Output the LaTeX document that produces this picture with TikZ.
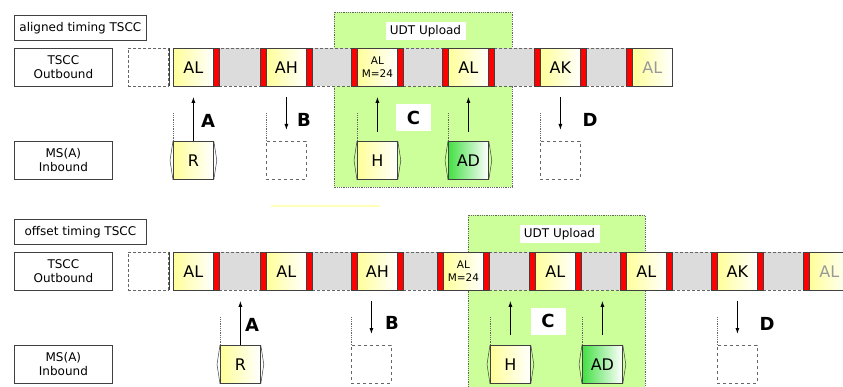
\documentclass[tikz,border=0pt]{standalone}
\usepackage{fontspec}
\setmainfont{DejaVu Sans}
\usetikzlibrary{
  arrows.meta,
  calc,
  positioning,
}
\definecolor{edge}{HTML}{404040}
\definecolor{dashgray}{HTML}{666666}
\definecolor{msgyellow}{HTML}{FFFF99}
\definecolor{msggreen}{HTML}{44E044}
\definecolor{upgreen}{HTML}{CCFF99}
\definecolor{gapgray}{HTML}{DCDCDC}
\definecolor{burstred}{HTML}{FF0000}
\definecolor{faint}{HTML}{999999}
\definecolor{paleline}{HTML}{FFFFB8}
\tikzset{
  >={Latex[length=6pt,width=4pt]},
  every node/.append style={inner sep=0pt, text=black},
  labelbox/.style={
    draw=edge,
    line width=0.8pt,
    fill=white,
    align=center,
    anchor=north west,
    font=\fontsize{12}{14}\selectfont,
  },
  slot/.style={
    draw=edge,
    line width=0.8pt,
    left color=msgyellow,
    right color=white,
    minimum width=40,
    minimum height=38,
    anchor=north west,
    font=\fontsize{16}{18}\selectfont,
  },
  smallslot/.style={slot, align=center, font=\fontsize{10.5}{13}\selectfont},
  fadeslot/.style={slot, text=faint},
  greenmsg/.style={slot, left color=msggreen},
  nomsg/.style={
    draw=dashgray,
    dashed,
    line width=0.8pt,
    minimum width=40,
    minimum height=38,
    anchor=north west,
  },
  emptyslot/.style={nomsg, densely dashed},
  gapbox/.style={
    draw=dashgray,
    densely dashed,
    line width=0.8pt,
    fill=gapgray,
    minimum height=38,
    anchor=north west,
  },
  redbar/.style={
    draw=edge,
    line width=0.8pt,
    fill=burstred,
    minimum width=6,
    minimum height=38,
    anchor=north west,
  },
  guide/.style={draw=dashgray, densely dotted, line width=0.8pt},
  flow/.style={->, line width=1pt, black},
  tag/.style={font=\fontsize{18}{18}\selectfont\bfseries},
  ctag/.style={tag, fill=white, minimum width=35, minimum height=27},
  uplabel/.style={fill=white, minimum width=80, minimum height=18, font=\fontsize{12}{14}\selectfont},
  upzone/.style={fill=upgreen, draw=dashgray, densely dotted, line width=0.8pt},
  hexedge/.style={draw=edge, line width=0.5pt},
}
\newcommand{\hexsides}[1]{%
  \draw[hexedge] (#1.north west) -- ($(#1.west)+(-3,0)$) -- (#1.south west);
  \draw[hexedge] (#1.north east) -- ($(#1.east)+(3,0)$) -- (#1.south east);
}

\begin{document}
\begin{tikzpicture}[x=1pt,y=-1pt]
  \useasboundingbox (0,0) rectangle (843,387);
  \clip (0,0) rectangle (843,387);
  \fill[white] (0,0) rectangle (843,387);

  % aligned timing
  \draw[upzone] (334,12) rectangle (512,187);
  \node[uplabel] (up1) at (425.5,31) {UDT Upload};
  \node[labelbox, minimum width=132, minimum height=25] (title1) at (14,15) {aligned timing TSCC};
  \node[labelbox, minimum width=98, minimum height=38] (out1) at (14,48) {TSCC\\Outbound};
  \node[labelbox, minimum width=98, minimum height=38] (in1) at (14,141) {MS(A)\\Inbound};

  \node[emptyslot] (te1) at (128,48) {};
  \draw[edge, line width=0.8pt] (169,48) -- (169,86);
  \foreach \a/\b [count=\i, evaluate=\a as \w using \b-\a-52] in {173/266, 266/357, 357/448, 448/540, 540/632}
    \node[gapbox, minimum width=\w] (tg\i) at (\a+46,48) {};
  \foreach \x/\t/\s [count=\i] in {173/AL/slot, 266/AH/slot, 357/{AL\\M=24}/smallslot, 448/AL/slot, 540/AK/slot, 632/AL/fadeslot}
    \node[\s] (tb\i) at (\x,48) {\t};
  \foreach \x [count=\i] in {213,260,306,351,397,442,488,534,580,626}
    \node[redbar] (tr\i) at (\x,48) {};

  \node[slot] (r1) at (173,141) {R};
  \node[nomsg] (b1) at (266,141) {};
  \node[slot] (h1) at (357,141) {H};
  \node[greenmsg] (ad1) at (448,141) {AD};
  \node[nomsg] (d1) at (540,141) {};
  \foreach \n in {r1,h1,ad1} {\hexsides{\n}}
  \foreach \n in {r1,b1,h1,ad1,d1}
    \draw[guide] (\n.north west) -- ++(0,-28);

  \draw[flow, shorten >=10pt] (r1.north) -- (r1.north |- tb1.south);
  \draw[flow, shorten <=10pt, shorten >=11pt] (tb2.south) -- (b1.north);
  \draw[flow, shorten <=9pt, shorten >=10pt] (h1.north) -- (h1.north |- tb3.south);
  \draw[flow, shorten <=9pt, shorten >=10pt] (ad1.north) -- (ad1.north |- tb4.south);
  \draw[flow, shorten <=10pt, shorten >=11pt] (tb5.south) -- (d1.north);

  \node[tag] (ta1) at (208,121) {A};
  \node[tag] (tbl1) at (304,120) {B};
  \node[ctag] (tc1) at (413.5,117.5) {C};
  \node[tag] (td1) at (590,120) {D};

  \draw[paleline, line width=1.2pt] (271,206) -- (380,206);

  % offset timing
  \draw[upzone] (468,215) rectangle (645,400);
  \node[uplabel] (up2) at (559.5,234) {UDT Upload};
  \node[labelbox, minimum width=132, minimum height=25] (title2) at (14,219) {offset timing TSCC};
  \node[labelbox, minimum width=98, minimum height=38] (out2) at (14,252) {TSCC\\Outbound};
  \node[labelbox, minimum width=98, minimum height=38] (in2) at (14,345) {MS(A)\\Inbound};

  \node[emptyslot] (te2) at (128,252) {};
  \draw[edge, line width=0.8pt] (169,252) -- (169,290);
  \foreach \a/\b [count=\i, evaluate=\a as \w using \b-\a-52] in {173/266, 266/357, 357/443, 443/535, 535/626, 626/717, 717/809}
    \node[gapbox, minimum width=\w] (bg\i) at (\a+46,252) {};
  \foreach \x/\t/\s [count=\i] in {173/AL/slot, 266/AL/slot, 357/AH/slot, 443/{AL\\M=24}/smallslot, 535/AL/slot, 626/AL/slot, 717/AK/slot, 809/AL/fadeslot}
    \node[\s] (bb\i) at (\x,252) {\t};
  \foreach \x [count=\i] in {213,260,306,351,397,437,483,529,575,620,666,711,757,803}
    \node[redbar] (br\i) at (\x,252) {};

  \node[slot] (r2) at (220,345) {R};
  \node[nomsg] (b2) at (351,345) {};
  \node[slot] (h2) at (490,345) {H};
  \node[greenmsg] (ad2) at (582,345) {AD};
  \node[nomsg] (d2) at (717,345) {};
  \foreach \n in {r2,h2,ad2} {\hexsides{\n}}
  \foreach \n in {r2,b2,h2,ad2,d2}
    \draw[guide] (\n.north west) -- ++(0,-28);

  \draw[flow, shorten >=10pt] (r2.north) -- (r2.north |- bg1.south);
  \draw[flow, shorten <=10pt, shorten >=11pt] (b2.north |- bb3.south) -- (b2.north);
  \draw[flow, shorten <=10pt, shorten >=10pt] (h2.north) -- (h2.north |- bg4.south);
  \draw[flow, shorten <=10pt, shorten >=10pt] (ad2.north) -- (ad2.north |- bg5.south);
  \draw[flow, shorten <=10pt, shorten >=11pt] (bb7.south) -- (d2.north);

  \node[tag] (ta2) at (252,325) {A};
  \node[tag] (tbl2) at (392,323) {B};
  \node[ctag] (tc2) at (548,321) {C};
  \node[tag] (td2) at (767,324) {D};
\end{tikzpicture}
\end{document}
